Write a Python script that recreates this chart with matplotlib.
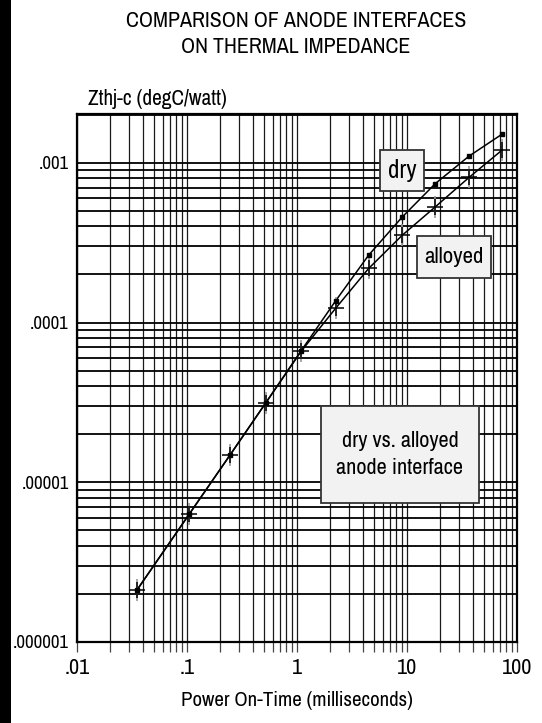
import numpy as np
import matplotlib
matplotlib.use("Agg")
from matplotlib import pyplot as plt
from matplotlib.patches import Rectangle
from matplotlib.ticker import LogLocator, NullFormatter

plt.rcParams['font.family'] = ['Archivo Narrow', 'Liberation Sans', 'DejaVu Sans']

# tiempos de encendido (ms) y Zth
t_ms = [0.035, 0.105, 0.246, 0.52, 1.09, 2.25, 4.48, 9.06, 18.1, 36.6, 73.1]
z_dry = [2.11e-6, 6.33e-6, 1.48e-5, 3.14e-5, 6.65e-5, 1.37e-4, 2.64e-4,
         4.58e-4, 7.41e-4, 1.10e-3, 1.51e-3]
z_alloyed = [2.11e-6, 6.33e-6, 1.48e-5, 3.14e-5, 6.60e-5, 1.23e-4, 2.18e-4,
             3.52e-4, 5.30e-4, 8.09e-4, 1.20e-3]

xticks = [0.01, 0.1, 1, 10, 100]
xlabels = [".01", ".1", "1", "10", "100"]
yticks = [1e-6, 1e-5, 1e-4, 1e-3]
ylabels = [".000001", ".00001", ".0001", ".001"]

W, H = 542, 723
fig = plt.figure(figsize=(W / 100, H / 100), dpi=100)
fig.patch.set_facecolor("white")


def caja(x0, y0, x1, y1, texto, size, ls=1.3):
    # caja gris con texto centrado, en pixeles desde arriba a la izquierda
    fig.add_artist(Rectangle((x0 / W, 1 - y1 / H), (x1 - x0) / W, (y1 - y0) / H,
                             transform=fig.transFigure, facecolor="#f2f2f2",
                             edgecolor="#333333", lw=1.3, zorder=5))
    fig.text((x0 + x1) / 2 / W, 1 - (y0 + y1) / 2 / H, texto, fontsize=size,
             ha="center", va="center", linespacing=ls, zorder=6)


# franja negra a la izquierda
fig.add_artist(Rectangle((0, 0), 11 / W, 1, transform=fig.transFigure,
                         facecolor="black", edgecolor="none", zorder=10))

ax = fig.add_axes([77 / W, 81 / H, 440 / W, 528 / H])
ax.set_xscale("log")
ax.set_yscale("log")
ax.set_xlim(0.01, 100)
ax.set_ylim(1e-6, 2.02e-3)

ax.xaxis.set_minor_locator(LogLocator(base=10, subs=np.arange(2, 10)))
ax.yaxis.set_minor_locator(LogLocator(base=10, subs=np.arange(2, 10)))
ax.xaxis.set_minor_formatter(NullFormatter())
ax.yaxis.set_minor_formatter(NullFormatter())

ax.set_xticks(xticks, xlabels)
ax.set_yticks(yticks, ylabels)

ax.grid(True, which="both", axis="x", color="#1a1a1a", lw=0.9)
ax.grid(True, which="both", axis="y", color="black", lw=1.3)
ax.set_axisbelow(True)

ax.tick_params(axis="x", which="both", direction="out", length=7.5,
               width=0.9, color="#444444", labelsize=16, pad=4)
ax.tick_params(axis="y", which="both", length=0, labelsize=13.5, pad=6)
for s in ax.spines.values():
    s.set_linewidth(1.6)
    s.set_color("black")

# curvas
ax.plot(t_ms, z_dry, color="black", lw=1.1, zorder=3)
ax.plot(t_ms, z_alloyed, color="black", lw=1.1, zorder=3)
ax.plot(t_ms, z_alloyed, ls="none", marker="|", ms=16, mew=1.2,
        color="#999999", zorder=3)
ax.plot(t_ms, z_dry, ls="none", marker="s", ms=3.5, color="black", zorder=4)
ax.plot(t_ms, z_alloyed, ls="none", marker="+", ms=11, mew=1.1,
        color="black", zorder=4)

caja(380, 150, 424, 191, "dry", 18)
caja(417, 236, 491, 278, "alloyed", 16.5)
caja(321, 406, 479, 503, "dry vs. alloyed\nanode interface", 16, ls=1.45)

fig.text(296 / W, 1 - 34 / H,
         "COMPARISON OF ANODE INTERFACES\nON THERMAL IMPEDANCE",
         fontsize=15.8, ha="center", va="center", linespacing=1.35)
fig.text(88 / W, 1 - 99 / H, "Zthj-c (degC/watt)", fontsize=15.3,
         ha="left", va="center")
fig.text(297 / W, 1 - 700 / H, "Power On-Time (milliseconds)",
         fontsize=15, ha="center", va="center")

fig.savefig("out.png", dpi=100)
